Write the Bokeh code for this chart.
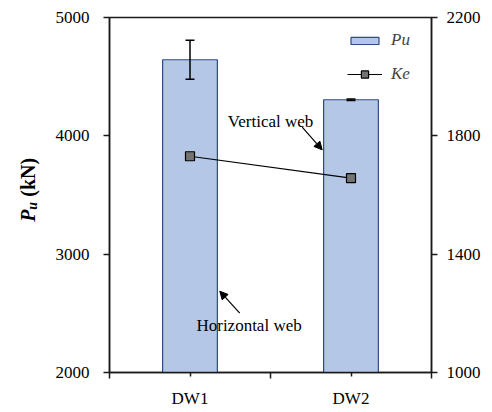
import math
from bokeh.plotting import figure
from bokeh.layouts import row
from bokeh.core.properties import value
from bokeh.models import (Range1d, LinearAxis, FixedTicker, ColumnDataSource, Whisker, TeeHead,
                          Legend, LegendItem, Label, Arrow, NormalHead)
from bokeh.embed import file_html
from bokeh.resources import INLINE

# ---- data ----
categories = ["DW1", "DW2"]
positions = [1, 2]
pu = [4643, 4305]          # kN (left axis)
pu_err = [165, 6]
ke = [1731, 1657]          # right axis
left_ticks = [2000, 3000, 4000, 5000]
right_ticks = [1000, 1400, 1800, 2200]

INK = "#1a1a1a"
FONT = "Liberation Serif"
LAB_W = 40

src = ColumnDataSource(dict(
    x=positions, pu=pu, ke=ke,
    upper=[v + e for v, e in zip(pu, pu_err)],
    lower=[v - e for v, e in zip(pu, pu_err)],
))

p = figure(width=492 - LAB_W, height=412, output_backend="svg", toolbar_location=None,
           x_range=Range1d(0.5, 2.5), y_range=Range1d(left_ticks[0], left_ticks[-1]),
           min_border_left=109 - LAB_W, min_border_right=61, min_border_top=17,
           min_border_bottom=40)
p.extra_y_ranges = {"ke": Range1d(right_ticks[0], right_ticks[-1])}
p.xgrid.visible = False
p.ygrid.visible = False
p.outline_line_color = INK
p.outline_line_width = 1.5

# x axis
xa = p.xaxis[0]
xa.ticker = FixedTicker(ticks=positions, minor_ticks=[0.5, 1.5, 2.5])
xa.major_label_overrides = {pos: name for pos, name in zip(positions, categories)}
xa.major_tick_in = 0
xa.major_tick_out = 4
xa.minor_tick_in = 0
xa.minor_tick_out = 6
xa.minor_tick_line_color = INK
xa.minor_tick_line_width = 1.5
xa.major_label_standoff = 10

# left axis
ya = p.yaxis[0]
ya.ticker = FixedTicker(ticks=left_ticks)
ya.major_tick_in = 0
ya.major_tick_out = 6
ya.minor_tick_line_color = None
ya.major_label_standoff = 14

# right axis
ra = LinearAxis(y_range_name="ke", ticker=FixedTicker(ticks=right_ticks))
ra.major_tick_in = 0
ra.major_tick_out = 6
ra.minor_tick_line_color = None
ra.major_label_standoff = 9
p.add_layout(ra, "right")

for ax in (xa, ya, ra):
    ax.axis_line_color = INK
    ax.axis_line_width = 1.5
    ax.major_tick_line_color = INK
    ax.major_tick_line_width = 1.5
    ax.major_label_text_font = FONT
    ax.major_label_text_font_size = "17px"
    ax.major_label_text_color = "black"

# bars
bars = p.vbar(x="x", top="pu", width=0.34, source=src,
              fill_color="#b4c7e7", line_color="#2f4d85", line_width=1.2)

# error bars
wh = Whisker(source=src, base="x", upper="upper", lower="lower",
             line_color="black", line_width=1.5, level="annotation",
             upper_head=TeeHead(size=9, line_color="black", line_width=1.5),
             lower_head=TeeHead(size=9, line_color="black", line_width=1.5))
p.add_layout(wh)

# Ke line + markers
kline = p.line(x="x", y="ke", source=src, y_range_name="ke", line_color="black", line_width=1.2)
kpts = p.scatter(x="x", y="ke", source=src, y_range_name="ke", marker="square", size=9,
                 fill_color="#737373", line_color="black", line_width=1.2)

# legends
leg1 = Legend(items=[LegendItem(label="Pu", renderers=[bars])], location=(238, 322),
              glyph_width=35, glyph_height=9, label_height=20, label_standoff=9,
              padding=0, margin=0, border_line_color=None, background_fill_alpha=0,
              label_text_font=FONT, label_text_font_size="17px", label_text_font_style="italic")
leg2 = Legend(items=[LegendItem(label="Ke", renderers=[kline, kpts])], location=(238, 288),
              glyph_width=35, glyph_height=18, label_height=20, label_standoff=9,
              padding=0, margin=0, border_line_color=None, background_fill_alpha=0,
              label_text_font=FONT, label_text_font_size="17px", label_text_font_style="italic")
p.add_layout(leg1)
p.add_layout(leg2)

# annotations
p.add_layout(Label(x=1.235, y=4124, text="Vertical web", text_font=FONT, text_font_size="17px",
                   text_baseline="alphabetic", text_color="black"))
p.add_layout(Arrow(x_start=1.697, y_start=4073, x_end=1.821, y_end=3882, line_width=1.2,
                   line_color="black",
                   end=NormalHead(size=8, fill_color="black", line_color="black")))
p.add_layout(Label(x=1.040, y=2397, text="Horizontal web", text_font=FONT, text_font_size="17px",
                   text_baseline="alphabetic", text_color="black"))
p.add_layout(Arrow(x_start=1.309, y_start=2501, x_end=1.185, y_end=2687, line_width=1.2,
                   line_color="black",
                   end=NormalHead(size=8, fill_color="black", line_color="black")))

# y-axis title "P_u (kN)" in a narrow side panel (pixel coordinates, y measured from bottom)
ylab = figure(width=LAB_W, height=412, output_backend="svg", toolbar_location=None,
              x_range=Range1d(0, LAB_W), y_range=Range1d(0, 412),
              min_border=0, min_border_left=0, min_border_right=0,
              min_border_top=0, min_border_bottom=0)
ylab.axis.visible = False
ylab.grid.visible = False
ylab.outline_line_color = None
ang = math.pi / 2
ylab.text(x=[27], y=[175], text=["P"], angle=ang, text_font=value(FONT),
          text_font_size="20px", text_font_style="bold italic", text_baseline="alphabetic",
          text_color="black")
ylab.text(x=[32], y=[189], text=["u"], angle=ang, text_font=value(FONT),
          text_font_size="14px", text_font_style="bold italic", text_baseline="alphabetic",
          text_color="black")
ylab.text(x=[27], y=[204], text=["(kN)"], angle=ang, text_font=value(FONT),
          text_font_size="20px", text_font_style="bold", text_baseline="alphabetic",
          text_color="black")

layout = row(ylab, p, spacing=0)
open("out.html", "w").write(file_html(layout, INLINE))
